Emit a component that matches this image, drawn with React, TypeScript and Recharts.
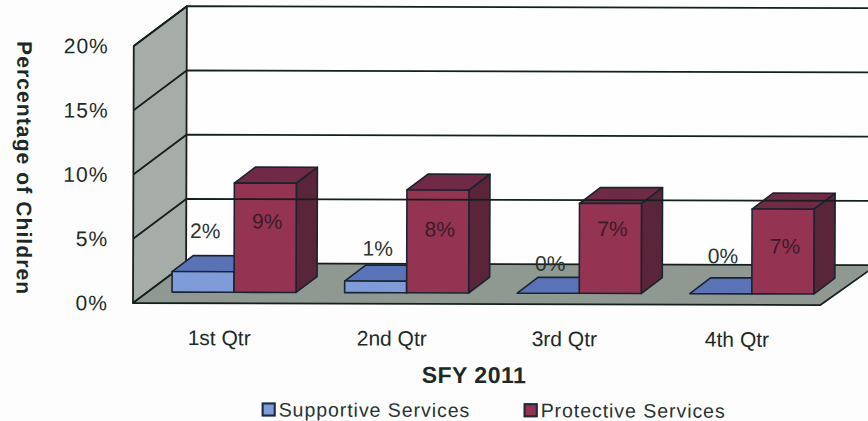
import React from "react";
import { BarChart, Bar, XAxis, YAxis, ReferenceArea, ReferenceLine, Legend, LabelList } from "recharts";

const categories = ["1st Qtr", "2nd Qtr", "3rd Qtr", "4th Qtr"];
const supportive = [1.6, 0.9, 0, 0];
const protective = [8.5, 8.0, 7.0, 6.6];
const supportiveLabels = ["2%", "1%", "0%", "0%"];
const protectiveLabels = ["9%", "8%", "7%", "7%"];
const yTicks = [0, 5, 10, 15, 20];
const gridValues = [5, 10, 15, 20];

const rows = categories.map((q, i) => ({
  q,
  supportive: supportive[i],
  protective: protective[i],
  supportiveLabel: supportiveLabels[i],
  protectiveLabel: protectiveLabels[i],
}));

// layout constants
const FONT = "'Liberation Sans', Arial, sans-serif";
const INK = "#1c2a26";
const WALL_DX = 53;
const WALL_DY = -40;
const BAR_DX = 15;
const BAR_DY = -11;
const DEPTH_DX = 21;
const DEPTH_DY = -16;
// vertical placement of each value label, measured down from the bar's top
const supportiveLabelDrop = [-41, -33, -30, -38];
const protectiveLabelDrop = [38, 39, 25, 37];

const Walls = (p: any) => {
  const { x, y, width, height } = p;
  const b = y + height;
  const r = x + width;
  return (
    <g stroke="#14201c" strokeWidth={1.8} strokeLinejoin="round">
      <polygon points={`${x + WALL_DX},${y + WALL_DY} ${r + WALL_DX},${y + WALL_DY} ${r + WALL_DX},${b + WALL_DY} ${x + WALL_DX},${b + WALL_DY}`} fill="#fefefe" stroke="none" />
      <polygon points={`${x},${y} ${x + WALL_DX},${y + WALL_DY} ${x + WALL_DX},${b + WALL_DY} ${x},${b}`} fill="#a6aca8" />
      <polygon points={`${x},${b} ${x + WALL_DX},${b + WALL_DY} ${r + WALL_DX},${b + WALL_DY} ${r - 3},${b}`} fill="#8f9891" />
    </g>
  );
};

const GridLine = (p: any) => {
  const { x1, y1, x2 } = p;
  return (
    <polyline
      points={`${x1},${y1} ${x1 + WALL_DX},${y1 + WALL_DY} ${x2 + WALL_DX},${y1 + WALL_DY}`}
      fill="none"
      stroke="#14201c"
      strokeWidth={1.8}
    />
  );
};

const Box = (p: any, front: string, top: string, side: string) => {
  const x = p.x + BAR_DX;
  const y = p.y + BAR_DY;
  const w = p.width;
  const h = Math.max(p.height, 0);
  return (
    <g stroke="#1a2430" strokeWidth={1.6} strokeLinejoin="round">
      <polygon points={`${x},${y} ${x + DEPTH_DX},${y + DEPTH_DY} ${x + w + DEPTH_DX},${y + DEPTH_DY} ${x + w},${y}`} fill={top} />
      <polygon points={`${x + w},${y} ${x + w + DEPTH_DX},${y + DEPTH_DY} ${x + w + DEPTH_DX},${y + h + DEPTH_DY} ${x + w},${y + h}`} fill={side} />
      <rect x={x} y={y} width={w} height={h} fill={front} />
    </g>
  );
};

const valueLabel = (drops: number[], fill: string) => (p: any) => (
  <text
    x={p.x + p.width / 2 + BAR_DX + 2}
    y={p.y + BAR_DY + drops[p.index]}
    textAnchor="middle"
    dominantBaseline="central"
    fontFamily={FONT}
    fontSize={21}
    fill={fill}
  >
    {p.value}
  </text>
);

const LegendRow = ({ payload }: any) => (
  <div style={{ display: "flex", paddingLeft: 262, height: 18, fontFamily: FONT, fontSize: 19.5, letterSpacing: 0.95, color: "#26332f", textAlign: "left" }}>
    {(payload || []).map((e: any) => (
      <div key={e.value} style={{ width: 262, height: 18, display: "flex", alignItems: "center", whiteSpace: "nowrap", lineHeight: "18px" }}>
        <span style={{ display: "inline-block", width: 10, height: 10, background: e.color, border: "2px solid #1f2a3a", marginRight: 3 }} />
        {e.value}
      </div>
    ))}
  </div>
);

export default function App() {
  return (
    <div style={{ position: "absolute", left: 0, top: 0, width: 868, height: 421, overflow: "hidden", background: "#fdfdfd" }}>
      <div style={{ transform: "rotate(0.17deg)", transformOrigin: "133px 303px" }}>
        <BarChart
          width={868}
          height={421}
          data={rows}
          margin={{ top: 46, right: 44.6, bottom: 62, left: 0 }}
          barGap={0}
          barCategoryGap={0}
          barSize={62}
        >
          <XAxis
            dataKey="q"
            axisLine={false}
            tickLine={false}
            height={56}
            interval={0}
            tickMargin={21}
            tick={{ fontFamily: FONT, fontSize: 21, fill: INK }}
            label={{ value: "SFY 2011", position: "insideBottom", offset: 0, dx: -4, dy: 23, style: { fontFamily: FONT, fontSize: 23, fontWeight: 700, fill: INK, letterSpacing: 0.5 } }}
          />
          <YAxis
            width={133}
            domain={[0, 20]}
            ticks={yTicks}
            axisLine={false}
            tickLine={false}
            tickMargin={19}
            tickFormatter={(v: number) => `${v}%`}
            tick={{ fontFamily: FONT, fontSize: 21, fill: INK, letterSpacing: 1 }}
            label={{ value: "Percentage of Children", angle: 90, position: "insideLeft", offset: 24, dy: -6, style: { fontFamily: FONT, fontSize: 21, fontWeight: 700, fill: INK, letterSpacing: 1.1, textAnchor: "middle" } }}
          />
          <ReferenceArea y1={0} y2={20} shape={Walls} ifOverflow="visible" />
          {gridValues.map((v) => (
            <ReferenceLine key={v} y={v} shape={GridLine} ifOverflow="visible" />
          ))}
          <Bar dataKey="supportive" name="Supportive Services" fill="#7f9bd8" isAnimationActive={false}
            shape={(p: any) => Box(p, "#7f9bd8", "#5a72b8", "#3f5190")}>
            <LabelList dataKey="supportiveLabel" content={valueLabel(supportiveLabelDrop, "#26332f")} />
          </Bar>
          <Bar dataKey="protective" name="Protective Services" fill="#943352" isAnimationActive={false}
            shape={(p: any) => Box(p, "#943352", "#702a45", "#5a2439")}>
            <LabelList dataKey="protectiveLabel" content={valueLabel(protectiveLabelDrop, "#3a1c28")} />
          </Bar>
          <Legend layout="horizontal" verticalAlign="middle" itemSorter={null} wrapperStyle={{ left: 0, top: 400, width: 868, height: 18 }} content={<LegendRow />} />
        </BarChart>
      </div>
    </div>
  );
}
